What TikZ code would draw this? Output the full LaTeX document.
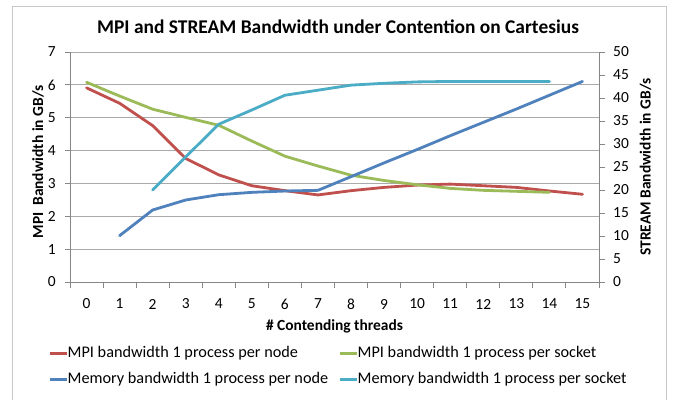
\documentclass[tikz,border=0pt]{standalone}
\usepackage{fontspec}
\setmainfont{Carlito}
\definecolor{mpinode}{RGB}{192,80,77}
\definecolor{mpisocket}{RGB}{155,187,89}
\definecolor{memnode}{RGB}{79,129,189}
\definecolor{memsocket}{RGB}{75,172,198}
\definecolor{gridgray}{RGB}{170,170,170}
\definecolor{axisgray}{RGB}{134,134,134}
\definecolor{framegray}{RGB}{200,200,200}
\tikzset{
  series/.style={line width=2.8bp, line join=round, line cap=round},
  legline/.style={line width=3bp},
  ticklbl/.style={font=\fontsize{15.5}{15.5}\selectfont, inner sep=0pt},
  axtitle/.style={font=\bfseries\fontsize{15.5}{15.5}\selectfont, inner sep=0pt},
  legtext/.style={font=\fontsize{16.3}{16.3}\selectfont, inner sep=0pt, anchor=west},
}
\begin{document}
\begin{tikzpicture}[x=1bp, y=-1bp]
\useasboundingbox (0,0) rectangle (675,400);
\fill[white] (0,0) rectangle (675,400);
% chart frame (open at the bottom edge)
\draw[framegray, line width=1bp] (12,400) -- (12,6) -- (666,6) -- (666,400);

% title
\node[font=\bfseries\fontsize{19.5}{19.5}\selectfont, inner sep=0pt] (title) at (338,27)
  {MPI and STREAM Bandwidth under Contention on Cartesius};

% horizontal gridlines (left axis, 1 GB/s steps)
\foreach \v in {1,...,7}
  \draw[gridgray, line width=1bp] (70,{282-32.857*\v}) -- (599,{282-32.857*\v});

% axes
\draw[axisgray, line width=1bp] (70,52) -- (70,282) -- (599,282) -- (599,52);
% left ticks and labels
\foreach \v in {0,...,7} {
  \draw[axisgray, line width=1bp] (64.5,{282-32.857*\v}) -- (70,{282-32.857*\v});
  \node[ticklbl, anchor=east] (yl\v) at (56,{282-32.857*\v}) {\v};
}
% right ticks and labels
\foreach \w in {0,5,...,50} {
  \draw[axisgray, line width=1bp] (599,{282-4.6*\w}) -- (604.5,{282-4.6*\w});
  \node[ticklbl, anchor=west] (yr\w) at (613,{282-4.6*\w}) {\w};
}
% category ticks and labels
\foreach \i in {0,...,16}
  \draw[axisgray, line width=1bp] ({70+33.0625*\i},282) -- ({70+33.0625*\i},287.5);
\foreach \i in {0,...,15}
  \node[ticklbl] (xl\i) at ({70+33.0625*(\i+0.5)},304) {\i};

% axis titles
\node[axtitle] (xtitle) at (334.5,326) {\# Contending threads};
\node[axtitle, rotate=90] (ytitle) at (38,162) {MPI~ Bandwidth in GB/s};
\node[axtitle, rotate=90] (y2title) at (645.5,167) {STREAM Bandwidth in GB/s};

% data series, MPI values on the left axis
\begin{scope}[shift={(86.53bp,-282bp)}, x=33.0625bp, y=32.857bp]
  \draw[series, mpinode] plot coordinates {
    (0,5.91) (1,5.44) (2,4.76) (3,3.76) (4,3.26) (5,2.93) (6,2.78) (7,2.65)
    (8,2.78) (9,2.88) (10,2.95) (11,2.98) (12,2.93) (13,2.88) (14,2.77) (15,2.67)};
  \draw[series, mpisocket] plot coordinates {
    (0,6.08) (1,5.66) (2,5.26) (3,5.01) (4,4.77) (5,4.29) (6,3.83) (7,3.53)
    (8,3.25) (9,3.09) (10,2.96) (11,2.85) (12,2.79) (13,2.76) (14,2.73)};
\end{scope}
% data series, STREAM values on the right axis
\begin{scope}[shift={(86.53bp,-282bp)}, x=33.0625bp, y=4.6bp]
  \draw[series, memnode] plot coordinates {
    (1,10.07) (2,15.65) (3,17.83) (4,18.98) (5,19.49) (6,19.78) (7,19.93)
    (8,22.9) (9,25.9) (10,28.8) (11,31.8) (12,34.7) (13,37.6) (14,40.6) (15,43.6)};
  \draw[series, memsocket] plot coordinates {
    (2,20.0) (3,27.2) (4,34.3) (5,37.4) (6,40.6) (7,41.7) (8,42.8) (9,43.2)
    (10,43.5) (11,43.6) (12,43.6) (13,43.6) (14,43.6)};
\end{scope}

% legend
\draw[legline, mpinode] (50,353) -- (67,353);
\node[legtext] (leg1) at (67.5,353) {MPI bandwidth 1 process per node};
\draw[legline, mpisocket] (340,353) -- (357,353);
\node[legtext] (leg2) at (357.5,353) {MPI bandwidth 1 process per socket};
\draw[legline, memnode] (50,379) -- (67,379);
\node[legtext] (leg3) at (67.5,379) {Memory bandwidth 1 process per node};
\draw[legline, memsocket] (340,379) -- (357,379);
\node[legtext] (leg4) at (357.5,379) {Memory bandwidth 1 process per socket};
\end{tikzpicture}
\end{document}
